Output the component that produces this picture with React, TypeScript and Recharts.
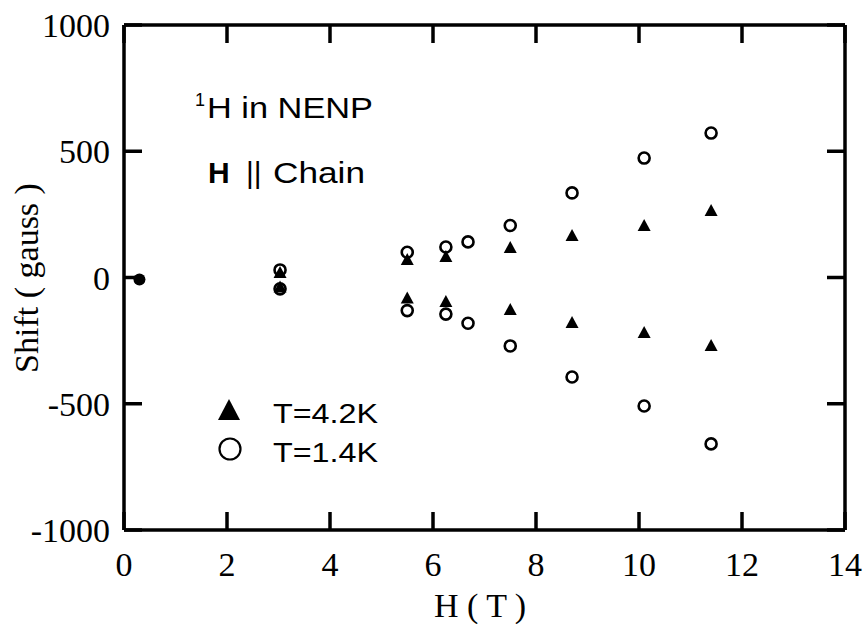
import { ScatterChart, Scatter, XAxis, YAxis } from 'recharts';

// field values (T) where the lines were measured
const fieldCircle = [3.03, 5.5, 6.25, 6.68, 7.5, 8.7, 10.1, 11.4];
const fieldTriangle = [3.03, 5.5, 6.25, 7.5, 8.7, 10.1, 11.4];

// T = 1.4 K, upper and lower line shifts (gauss)
const circleUpper = [30, 100, 121, 141, 206, 335, 473, 572];
const circleLower = [-45, -131, -145, -181, -271, -394, -509, -659];

// T = 4.2 K
const triangleUpper = [18, 69, 81, 117, 164, 204, 263];
const triangleLower = [-40, -83, -97, -129, -180, -220, -271];

// zero field point
const zeroField = [{ x: 0.3, y: -8 }];

const xTicks = [0, 2, 4, 6, 8, 10, 12, 14];
const yTicks = [-1000, -500, 0, 500, 1000];

const pairs = (xs: number[], ys: number[]) => xs.map((x, i) => ({ x, y: ys[i] }));

const circleData = [...pairs(fieldCircle, circleUpper), ...pairs(fieldCircle, circleLower)];
const triangleData = [...pairs(fieldTriangle, triangleUpper), ...pairs(fieldTriangle, triangleLower)];

const serif = '"Liberation Serif", "Times New Roman", serif';
const sans = '"Liberation Sans", Arial, sans-serif';
const tickStyle = { fill: '#000', fontSize: 34, fontFamily: serif };
const axisLine = { stroke: '#000', strokeWidth: 3.5 };
const tickLine = { stroke: '#000', strokeWidth: 3.5 };
const nothing = () => <g />;

const Triangle = (p: any) => (
  <polygon
    points={`${p.cx},${p.cy - 7} ${p.cx - 6.5},${p.cy + 5} ${p.cx + 6.5},${p.cy + 5}`}
    fill="#000"
  />
);
const OpenCircle = (p: any) => <circle cx={p.cx} cy={p.cy} r={5.5} fill="none" stroke="#000" strokeWidth={2.6} />;
const Dot = (p: any) => <circle cx={p.cx} cy={p.cy} r={6} fill="#000" />;

export default function App() {
  return (
    <div style={{ position: 'absolute', left: 0, top: 0, width: 864, height: 624, background: '#fff' }}>
      <ScatterChart width={864} height={624} margin={{ top: 24, right: 18, bottom: 34, left: 12 }}>
        <XAxis
          xAxisId="b"
          type="number"
          dataKey="x"
          domain={[0, 14]}
          ticks={xTicks}
          interval={0}
          height={60}
          stroke="#000"
          tick={tickStyle}
          tickSize={-18}
          tickMargin={40}
          axisLine={axisLine}
          tickLine={tickLine}
        />
        <XAxis
          xAxisId="t"
          orientation="top"
          type="number"
          dataKey="x"
          domain={[0, 14]}
          ticks={xTicks}
          interval={0}
          height={1}
          stroke="#000"
          tick={nothing}
          tickSize={-18}
          axisLine={axisLine}
          tickLine={tickLine}
        />
        <YAxis
          yAxisId="l"
          type="number"
          dataKey="y"
          domain={[-1000, 1000]}
          ticks={yTicks}
          interval={0}
          width={112}
          stroke="#000"
          tick={tickStyle}
          tickSize={-18}
          tickMargin={32}
          axisLine={axisLine}
          tickLine={tickLine}
        />
        <YAxis
          yAxisId="r"
          orientation="right"
          type="number"
          dataKey="y"
          domain={[-1000, 1000]}
          ticks={yTicks}
          interval={0}
          width={1}
          stroke="#000"
          tick={nothing}
          tickSize={-18}
          axisLine={axisLine}
          tickLine={tickLine}
        />
        <Scatter xAxisId="b" yAxisId="l" name="T=4.2K" data={triangleData} shape={Triangle} isAnimationActive={false} />
        <Scatter xAxisId="b" yAxisId="l" name="T=1.4K" data={circleData} shape={OpenCircle} isAnimationActive={false} />
        <Scatter xAxisId="b" yAxisId="l" name="0 T" data={zeroField} shape={Dot} isAnimationActive={false} />
        {/* invisible series so the mirrored top/right axes get their ticks */}
        <Scatter xAxisId="t" yAxisId="r" data={circleData} shape={nothing} legendType="none" isAnimationActive={false} />

        {/* axis titles */}
        <text x={480} y={617} textAnchor="middle" fontSize={34} fontFamily={serif} fill="#000">H ( T )</text>
        <text x={38} y={278} transform="rotate(-90 38 278)" textAnchor="middle" fontSize={34} fontFamily={serif} fill="#000">
          Shift ( gauss )
        </text>

        {/* annotation */}
        <text x={195} y={106} fontSize={18} fontFamily={sans} fill="#000">1</text>
        <text x={207} y={118} fontSize={30} fontFamily={sans} fill="#000" textLength={166} lengthAdjust="spacingAndGlyphs">
          H in NENP
        </text>
        <text x={208} y={183} fontSize={30} fontWeight="bold" fontFamily={sans} fill="#000">H</text>
        <text x={246} y={183} fontSize={30} fontFamily={sans} fill="#000">||</text>
        <text x={273} y={183} fontSize={30} fontFamily={sans} fill="#000" textLength={92} lengthAdjust="spacingAndGlyphs">
          Chain
        </text>

        {/* legend */}
        <polygon points="229,399 218,420 240,420" fill="#000" />
        <text x={273} y={423} fontSize={28} fontFamily={sans} fill="#000" textLength={105} lengthAdjust="spacingAndGlyphs">
          T=4.2K
        </text>
        <circle cx={230} cy={449} r={10.5} fill="none" stroke="#000" strokeWidth={2.2} />
        <text x={273} y={462} fontSize={28} fontFamily={sans} fill="#000" textLength={105} lengthAdjust="spacingAndGlyphs">
          T=1.4K
        </text>
      </ScatterChart>
    </div>
  );
}
